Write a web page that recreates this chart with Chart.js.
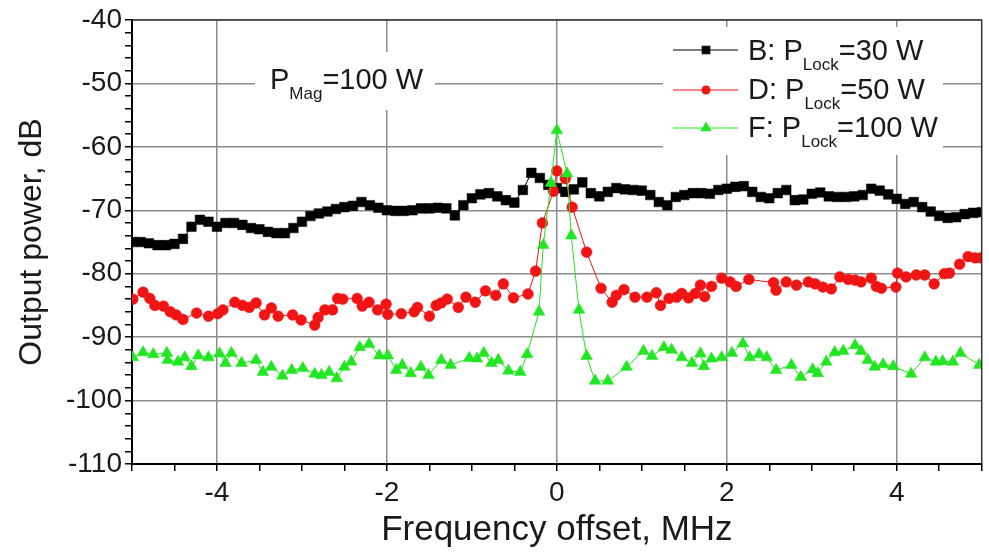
<!DOCTYPE html>
<html>
<head>
<meta charset="utf-8">
<title>Output power vs frequency offset</title>
<script src="https://cdn.jsdelivr.net/npm/chart.js@4.4.1/dist/chart.umd.min.js"></script>
<style>
  html, body { margin: 0; padding: 0; background: #fff; }
  #wrap { width: 989px; height: 552px; position: relative; }
</style>
</head>
<body>
<div id="wrap"><canvas id="spectrum" width="989" height="552"></canvas></div>
<script>
const FONT = '"Liberation Sans", Arial, sans-serif'

// B: locking power 30 W (frequency offset in MHz, output power in dB)
const freqB = [
  -5.0, -4.9, -4.8, -4.7, -4.6, -4.5, -4.4, -4.3, -4.2, -4.1,
  -4.0, -3.9, -3.8, -3.7, -3.6, -3.5, -3.4, -3.3, -3.2, -3.1,
  -3.0, -2.9, -2.8, -2.7, -2.6, -2.5, -2.4, -2.3, -2.2, -2.1,
  -2.0, -1.9, -1.8, -1.7, -1.6, -1.5, -1.4, -1.3, -1.2, -1.1,
  -1.0, -0.9, -0.8, -0.7, -0.6, -0.5, -0.4, -0.3, -0.2, -0.1,
   0.0,  0.1,  0.2,  0.3,  0.4,  0.5,  0.6,  0.7,  0.8,  0.9,
   1.0,  1.1,  1.2,  1.3,  1.4,  1.5,  1.6,  1.7,  1.8,  1.9,
   2.0,  2.1,  2.2,  2.3,  2.4,  2.5,  2.6,  2.7,  2.8,  2.9,
   3.0,  3.1,  3.2,  3.3,  3.4,  3.5,  3.6,  3.7,  3.8,  3.9,
   4.0,  4.1,  4.2,  4.3,  4.4,  4.5,  4.6,  4.7,  4.8,  4.9,
   5.0
]
const powerB = [
  -75.0, -75.0, -75.2, -75.5, -75.5, -75.3, -74.5, -72.6, -71.5, -71.8,
  -72.6, -72.0, -72.0, -72.3, -72.8, -73.0, -73.4, -73.6, -73.6, -72.8,
  -71.8, -70.9, -70.5, -70.2, -69.8, -69.5, -69.3, -68.7, -69.2, -69.6,
  -70.0, -70.1, -70.1, -70.0, -69.7, -69.7, -69.6, -69.7, -70.8, -69.2,
  -68.1, -67.5, -67.3, -67.8, -68.4, -68.8, -66.8, -64.1, -64.9, -66.0,
  -66.5, -67.1, -66.7, -65.6, -67.3, -67.8, -67.1, -66.5, -66.7, -66.8,
  -66.9, -67.6, -68.7, -69.2, -67.9, -67.6, -67.3, -67.3, -67.4, -66.8,
  -66.6, -66.3, -66.2, -67.1, -67.9, -68.1, -67.3, -66.8, -68.4, -68.3,
  -67.4, -67.2, -67.8, -67.9, -67.9, -67.8, -67.6, -66.6, -66.9, -67.5,
  -68.2, -69.0, -68.7, -69.5, -70.2, -70.9, -71.2, -71.1, -70.6, -70.4,
  -70.3
]

// D: locking power 50 W
const freqD = [
  -4.99, -4.87, -4.79, -4.73, -4.63, -4.55, -4.48, -4.40, -4.24, -4.10,
  -3.99, -3.93, -3.79, -3.70, -3.62, -3.54, -3.44, -3.36, -3.28, -3.11,
  -3.01, -2.85, -2.81, -2.73, -2.64, -2.58, -2.52, -2.35, -2.29, -2.21,
  -2.11, -2.01, -1.99, -1.83, -1.68, -1.64, -1.50, -1.42, -1.36, -1.29,
  -1.16, -1.07, -0.96, -0.84, -0.72, -0.63, -0.51, -0.34, -0.25, -0.17,
  -0.04,  0.00,  0.10,  0.18,  0.35,  0.52,  0.65,  0.70,  0.79,  0.92,
   1.06,  1.17,  1.22,  1.32,  1.41,  1.47,  1.55,  1.63,  1.69,  1.74,
   1.82,  1.94,  2.04,  2.11,  2.26,  2.55,  2.58,  2.70,  2.82,  2.96,
   3.04,  3.13,  3.23,  3.33,  3.43,  3.51,  3.58,  3.70,  3.76,  3.82,
   3.99,  4.01,  4.11,  4.23,  4.33,  4.44,  4.56,  4.62,  4.74,  4.84,
   4.92,  4.99
]
const powerD = [
  -84.0, -82.9, -83.9, -85.0, -85.1, -86.0, -86.5, -87.2, -86.2, -86.7,
  -86.3, -85.7, -84.5, -85.0, -85.3, -84.6, -86.5, -85.4, -86.7, -86.5,
  -87.3, -88.1, -86.9, -85.7, -85.7, -83.9, -84.0, -83.9, -85.1, -84.5,
  -85.7, -84.8, -86.4, -86.3, -86.0, -85.3, -86.7, -85.0, -84.6, -84.0,
  -85.3, -83.7, -84.5, -82.7, -83.4, -81.6, -83.8, -83.2, -79.6, -72.0,
  -67.0, -63.8, -65.0, -69.5, -76.6, -82.3, -84.5, -83.4, -82.5, -83.7,
  -83.7, -83.0, -85.0, -83.9, -83.7, -83.1, -83.8, -83.1, -81.8, -83.6,
  -82.0, -80.7, -81.3, -82.0, -80.9, -81.4, -82.6, -81.3, -81.8, -81.3,
  -81.6, -82.1, -82.4, -80.5, -80.9, -81.0, -81.3, -80.7, -82.0, -82.3,
  -82.1, -79.9, -80.5, -80.2, -80.2, -81.6, -80.0, -79.9, -78.5, -77.3,
  -77.5, -77.5
]

// F: locking power 100 W
const freqF = [
  -4.99, -4.87, -4.75, -4.59, -4.58, -4.46, -4.38, -4.30, -4.22, -4.10,
  -3.97, -3.90, -3.83, -3.71, -3.54, -3.46, -3.36, -3.23, -3.12, -2.99,
  -2.85, -2.77, -2.68, -2.59, -2.50, -2.42, -2.32, -2.21, -2.09, -1.99,
  -1.89, -1.82, -1.72, -1.60, -1.51, -1.36, -1.25, -1.03, -0.94, -0.86,
  -0.77, -0.69, -0.57, -0.43, -0.35, -0.21, -0.16, -0.07,  0.00,  0.12,
   0.17,  0.26,  0.35,  0.45,  0.60,  0.82,  1.02,  1.12,  1.26,  1.35,
   1.47,  1.59,  1.69,  1.73,  1.82,  1.94,  2.06,  2.19,  2.27,  2.38,
   2.47,  2.58,  2.76,  2.87,  3.01,  3.07,  3.17,  3.27,  3.37,  3.51,
   3.58,  3.66,  3.74,  3.84,  3.96,  4.17,  4.33,  4.46,  4.54,  4.66,
   4.75,  4.97
]
const powerF = [
  -93.2, -92.4, -92.7, -92.5, -93.6, -93.9, -93.2, -94.6, -92.9, -93.2,
  -92.6, -94.1, -92.5, -94.1, -93.6, -95.5, -94.7, -96.1, -95.2, -94.9,
  -95.8, -96.0, -95.5, -96.5, -94.7, -93.9, -91.6, -91.1, -92.9, -92.9,
  -95.2, -94.4, -95.7, -94.7, -96.0, -93.6, -94.4, -93.3, -93.4, -92.5,
  -94.1, -93.6, -95.3, -95.5, -92.7, -86.0, -75.5, -65.7, -57.4, -64.2,
  -74.0, -85.7, -93.0, -96.9, -96.9, -94.7, -92.2, -93.0, -91.6, -92.0,
  -93.2, -94.1, -92.6, -94.6, -93.4, -93.2, -92.5, -91.0, -93.2, -92.7,
  -93.2, -95.2, -94.4, -96.3, -95.1, -95.7, -93.9, -92.4, -92.2, -91.3,
  -92.2, -93.6, -94.7, -94.3, -94.6, -95.8, -93.2, -93.9, -93.8, -93.9,
  -92.5, -94.4
]

// labelled ticks (minor ticks are unlabelled)
const xLabels = [-4, -2, 0, 2, 4]
const yLabels = [-40, -50, -60, -70, -80, -90, -100, -110]

// legend entries
const seriesNames = ['B', 'D', 'F']
const lockPower = [30, 50, 100]
const magPower = 100

const COLORS = { B: '#000000', D: '#f01414', F: '#22e622' }
const STYLES = { B: 'rect', D: 'circle', F: 'triangle' }
const RADII = { B: 6.8, D: 5.4, F: 6.8 }

const toPoints = (xs, ys) => xs.map((x, i) => ({ x, y: ys[i] }))

const isMajorX = v => xLabels.includes(Math.round(v * 10) / 10)
const isMajorY = v => yLabels.includes(Math.round(v))

// P with subscript, e.g. P_Lock=30 W
function drawSubText(ctx, x, y, lead, base, sub, tail) {
  ctx.textBaseline = 'alphabetic'
  ctx.textAlign = 'left'
  ctx.font = `29px ${FONT}`
  ctx.fillText(lead + base, x, y)
  x += ctx.measureText(lead + base).width
  ctx.font = `17px ${FONT}`
  ctx.fillText(sub, x, y + 10)
  x += ctx.measureText(sub).width
  ctx.font = `29px ${FONT}`
  ctx.fillText(tail, x, y)
}

const annotations = {
  id: 'annotations',
  afterDraw(chart) {
    const { ctx, chartArea: a } = chart
    ctx.save()

    // boxes that keep the grid out from under the text
    ctx.fillStyle = '#fff'
    ctx.fillRect(a.left + 123, a.top + 32, 180, 58)
    ctx.fillRect(a.left + 531, a.top + 7, 280, 128)

    ctx.fillStyle = '#1a1a1a'
    drawSubText(ctx, a.left + 138, a.top + 69, '', 'P', 'Mag', `=${magPower} W`)

    // legend
    const rowY = [50, 90, 128]
    const textY = [60, 99, 137]
    seriesNames.forEach((name, i) => {
      const color = COLORS[name]
      ctx.strokeStyle = color
      ctx.lineWidth = 1.2
      ctx.beginPath()
      ctx.moveTo(673, rowY[i])
      ctx.lineTo(738, rowY[i])
      ctx.stroke()
      ctx.fillStyle = color
      Chart.helpers.drawPoint(ctx, {
        pointStyle: STYLES[name], radius: RADII[name] - 1.5, rotation: 0, borderWidth: 1
      }, 706, rowY[i])
      ctx.fillStyle = '#1a1a1a'
      drawSubText(ctx, 748, textY[i], `${name}: `, 'P', 'Lock', `=${lockPower[i]} W`)
    })

    // frame
    ctx.strokeStyle = '#333'
    ctx.lineWidth = 1.5
    ctx.beginPath()
    ctx.moveTo(a.left, a.top)
    ctx.lineTo(a.right, a.top)
    ctx.lineTo(a.right, a.bottom)
    ctx.stroke()
    ctx.restore()
  }
}

const series = (name, xs, ys, order) => ({
  label: name,
  data: toPoints(xs, ys),
  showLine: true,
  borderColor: COLORS[name],
  borderWidth: 1,
  backgroundColor: COLORS[name],
  pointBackgroundColor: COLORS[name],
  pointBorderColor: COLORS[name],
  pointBorderWidth: 0.5,
  pointStyle: STYLES[name],
  pointRadius: RADII[name],
  order,
})

Chart.defaults.font.family = FONT
Chart.defaults.color = '#1a1a1a'

new Chart(document.getElementById('spectrum'), {
  type: 'scatter',
  data: {
    datasets: [
      series('B', freqB, powerB, 3),
      series('D', freqD, powerD, 2),
      series('F', freqF, powerF, 1),
    ],
  },
  options: {
    responsive: false,
    animation: false,
    layout: { padding: { top: 20, right: 5, left: 0, bottom: 0 } },
    plugins: { legend: { display: false }, tooltip: { enabled: false } },
    scales: {
      x: {
        type: 'linear',
        min: -5,
        max: 5,
        afterFit: s => { s.height = 88 },
        ticks: {
          stepSize: 0.5,
          autoSkip: false,
          maxRotation: 0,
          padding: 5,
          font: { size: 28 },
          color: '#1a1a1a',
          callback: v => (isMajorX(v) ? String(Math.round(v)) : ''),
        },
        grid: {
          color: c => (c.tick && isMajorX(c.tick.value) ? '#8c8c8c' : 'rgba(0,0,0,0)'),
          lineWidth: 1.5,
          tickColor: '#000',
          tickLength: 7,
          tickWidth: 1.5,
        },
        border: { color: '#000', width: 2 },
        title: {
          display: true,
          text: 'Frequency offset, MHz',
          font: { size: 35 },
          color: '#1a1a1a',
          padding: { top: 0, bottom: 1 },
        },
      },
      y: {
        type: 'linear',
        min: -110,
        max: -40,
        afterFit: s => { s.width = 132 },
        ticks: {
          stepSize: 2,
          autoSkip: false,
          padding: 3,
          font: { size: 28 },
          color: '#1a1a1a',
          callback: v => (isMajorY(v) ? String(Math.round(v)) : ''),
        },
        grid: {
          color: c => (c.tick && isMajorY(c.tick.value) ? '#8c8c8c' : 'rgba(0,0,0,0)'),
          lineWidth: 1.5,
          tickColor: '#000',
          tickLength: 7,
          tickWidth: 1.5,
        },
        border: { color: '#000', width: 2 },
        title: {
          display: true,
          text: 'Output power, dB',
          font: { size: 32 },
          color: '#1a1a1a',
          padding: { top: 13, bottom: 0 },
        },
      },
    },
  },
  plugins: [annotations],
})
</script>
</body>
</html>
